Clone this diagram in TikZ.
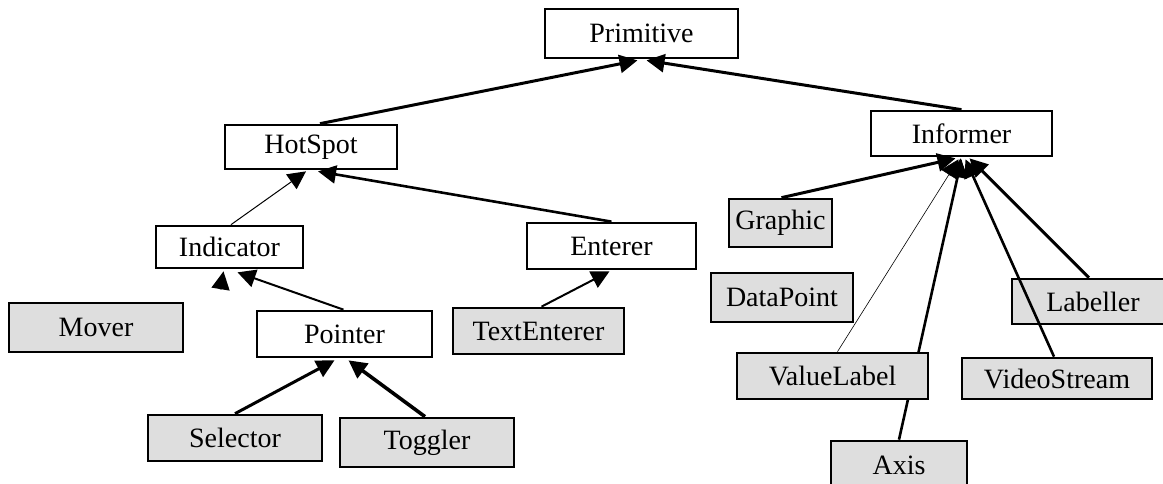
\documentclass[tikz,border=0pt]{standalone}
\usepackage{fontspec}
\setmainfont{Liberation Serif}
\usetikzlibrary{arrows.meta,calc}
\pgfdeclarelayer{background}
\pgfsetlayers{background,main}
\definecolor{boxgray}{HTML}{DEDEDE}
\begin{document}
\begin{tikzpicture}[x=0.5pt,y=-0.5pt,
  cls/.style={draw=black,line width=1.35pt,fill=white,inner sep=0pt,font=\fontsize{14}{16}\selectfont},
  leaf/.style={cls,fill=boxgray},
  inh/.style={draw=black,-{Triangle[length=9pt,width=9pt]},line width=1.5pt},
  inhthin/.style={inh,line width=0.5pt},
  inhmid/.style={inh,line width=1pt},
  inhhair/.style={inh,line width=0.3pt}]
\useasboundingbox (0,0) rectangle (1163,483);
\clip (0,0) rectangle (1163,483);
% nodes
\node[cls,minimum width=96.5pt,minimum height=24.5pt] (Primitive) at (641.5,33.5) {Primitive};
\node[cls,minimum width=86pt,minimum height=22pt] (HotSpot) at (311,147) {HotSpot};
\node[cls,minimum width=90.5pt,minimum height=22.5pt] (Informer) at (961.5,133.5) {Informer};
\node[cls,minimum width=73.5pt,minimum height=21pt] (Indicator) at (229.5,247) {Indicator};
\node[cls,minimum width=84.5pt,minimum height=23pt] (Enterer) at (611.5,246) {Enterer};
\node[leaf,minimum width=87pt,minimum height=24.5pt] (Mover) at (96,327.5) {Mover};
\node[cls,minimum width=87.5pt,minimum height=23pt] (Pointer) at (344.5,334) {Pointer};
\node[leaf,minimum width=85.5pt,minimum height=23pt] (TextEnterer) at (538.5,331) {TextEnterer};
\node[leaf,minimum width=87pt,minimum height=23pt] (Selector) at (235,438) {Selector};
\node[leaf,minimum width=87pt,minimum height=24.5pt] (Toggler) at (427,442.5) {Toggler};
\node[leaf,minimum width=51.5pt,minimum height=24pt] (Graphic) at (780.5,223) {Graphic};
\node[leaf,minimum width=71pt,minimum height=24.5pt] (DataPoint) at (782,297.5) {DataPoint};
\node[leaf,minimum width=95.5pt,minimum height=23pt] (ValueLabel) at (832.5,376) {ValueLabel};
\node[leaf,minimum width=68pt,minimum height=24.5pt] (Axis) at (899,465.5) {Axis};
\node[leaf,minimum width=81pt,minimum height=22.5pt] (Labeller) at (1093,301.5) {Labeller};
\node[leaf,minimum width=95pt,minimum height=20.5pt] (VideoStream) at (1057,378.5) {VideoStream};
% connectors
\draw[inh] ($(HotSpot.north)+(9,0)$) -- ($(Primitive.south)+(-4,1)$);
\draw[inh] (Informer.north) -- ($(Primitive.south)+(5,1)$);
\draw[inhthin] ($(Indicator.north)+(1.5,0)$) -- ($(HotSpot.south)+(-5,1)$);
\draw[inh,line width=1.3pt] (Enterer.north) -- ($(HotSpot.south)+(7,1)$);
\draw[inhmid] ($(Pointer.north)+(-1,0)$) -- ($(Indicator.south)+(8,3)$);
\coordinate (moverend) at ($(Indicator.south)+(-9,20)$);
\draw[inhmid] (moverend) -- ($(Indicator.south)+(-6,2)$);
\draw[inh] (Selector.north) -- ($(Pointer.south)+(-10,2)$);
\draw[inh,line width=1.8pt] ($(Toggler.north)+(-2,0)$) -- ($(Pointer.south)+(4,2)$);
\draw[inhmid] ($(TextEnterer.north)+(3,0)$) -- ($(Enterer.south)+(-2,1)$);
\draw[inh] ($(Graphic.north)+(1,0)$) -- ($(Informer.south)+(-6,1)$);
\coordinate (datapointend) at ($(Informer.south)+(-3,20)$);
\draw[inhmid] (datapointend) -- ($(Informer.south)+(-1,1)$);
\draw[inhhair] ($(ValueLabel.north)+(5,0)$) -- ($(Informer.south)+(-3,2)$);
\begin{pgfonlayer}{background}
\draw[inh,line width=1.3pt] (Axis.north) -- ($(Informer.south)+(0,2)$);
\end{pgfonlayer}
\draw[inh,line width=1.3pt] ($(VideoStream.north)+(-3,0)$) -- ($(Informer.south)+(4,2)$);
\draw[inh] ($(Labeller.north)+(-4,0)$) -- ($(Informer.south)+(8,1)$);
\end{tikzpicture}
\end{document}
